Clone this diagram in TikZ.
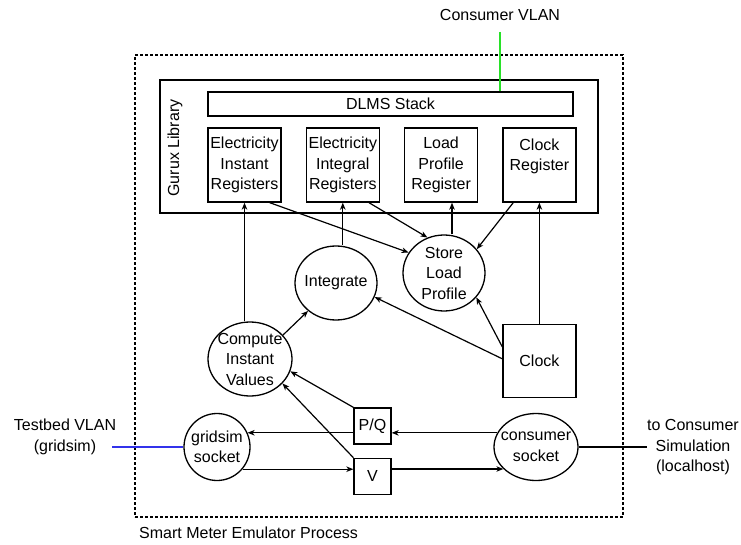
\documentclass[tikz,border=0pt]{standalone}
\usepackage{fontspec}
\setmainfont{Liberation Sans}
\usetikzlibrary{shapes.geometric, arrows.meta, positioning}
\definecolor{vlangreen}{RGB}{40,225,40}
\definecolor{vlanblue}{RGB}{50,50,235}

\begin{document}
\begin{tikzpicture}[
    x=1pt, y=-1pt,
    font=\fontsize{16}{20.5}\selectfont,
    blk/.style={rectangle, draw, line width=1.3pt, inner sep=0pt, align=center},
    reg/.style={blk, minimum width=73pt, minimum height=74pt},
    bub/.style={ellipse, draw, line width=1.3pt, inner sep=-3pt, align=center},
    arr/.style={-{Stealth[length=7pt, width=5.5pt, inset=2pt]}, line width=1.2pt}
]
    \useasboundingbox (0,0) rectangle (741,545);

    \node[blk, line width=1.1pt, dash pattern=on 3pt off 2pt, minimum width=488pt, minimum height=462pt] (proc) at (379,286) {};
    \node[anchor=west, inner sep=0pt] (proclbl) at (139,533) {Smart Meter Emulator Process};

    \node[blk, minimum width=438pt, minimum height=133pt] (gurux) at (379,146.5) {};
    \node[rotate=90] (guruxlbl) at (175,148) {Gurux Library};
    \node[blk, minimum width=365pt, minimum height=24pt] (dlms) at (390.5,104) {DLMS Stack};

    \node[reg] (eir) at (244.5,165) {Electricity\\Instant\\Registers};
    \node[reg, right=24pt of eir] (eig) {Electricity\\Integral\\Registers};
    \node[reg, right=24pt of eig] (lpr) {Load\\Profile\\Register};
    \node[reg, right=24pt of lpr] (clr) {Clock\\Register\\~};

    \node[bub, minimum width=82pt, minimum height=76pt] (slp) at (444,273) {Store\\Load\\Profile};
    \node[bub, minimum width=82pt, minimum height=74pt] (integ) at (336,283) {Integrate};
    \node[bub, minimum width=84pt, minimum height=74pt] (civ) at (250,359) {Compute\\Instant\\Values};
    \node[blk, minimum size=73pt, below=121pt of clr] (clock) {Clock};

    \node[blk, minimum width=37pt, minimum height=36pt] (pq) at (372.5,426) {P/Q};
    \node[blk, minimum width=37pt, minimum height=36pt, below=13pt of pq] (v) {V};
    \node[bub, minimum width=66pt, minimum height=67pt] (gridsim) at (217,447) {gridsim\\socket};
    \node[bub, inner xsep=-6pt, minimum width=84pt, minimum height=67pt] (consumer) at (536,447) {consumer\\socket};

    \node (cvlan) at (500,15) {Consumer VLAN};
    \node[align=center] (tbvlan) at (65,437) {Testbed VLAN\\(gridsim)};
    \node[align=center] (tocons) at (693,447.5) {to Consumer\\Simulation\\(localhost)};
    \coordinate (cvlanend) at (500,32);
    \coordinate (tbend) at (112,447);
    \coordinate (csend) at (647,447);

    \draw[vlangreen, line width=1.3pt] (cvlanend) -- (cvlanend |- dlms.north);
    \draw[vlanblue, line width=1.3pt] (tbend) -- (gridsim.west);
    \draw[line width=1.3pt] (consumer.east) -- (csend);

    \draw[arr] (civ.north -| eir.south) -- (eir.south);
    \draw[arr] (integ.north -| eig.south) -- (eig.south);
    \draw[arr] ([xshift=8pt]slp.north) -- ([xshift=8pt]slp.north |- lpr.south);
    \draw[arr] (clock.north) -- (clock.north |- clr.south);
    \draw[arr] ([xshift=-12pt]eir.south east) -- (slp.150);
    \draw[arr] ([xshift=-11pt]eig.south east) -- (slp.115);
    \draw[arr] ([xshift=11pt]clr.south west) -- (slp.36);
    \draw[arr] ([yshift=14pt]clock.west) -- (slp.-37);
    \draw[arr] ([yshift=2pt]clock.west) -- (integ.-20);
    \draw[arr] (civ.36) -- (integ.225);
    \draw[arr] (pq.north west) -- (civ.-17);
    \draw[arr] (v.north west) -- (civ.-37);
    \draw[arr] (pq.west |- gridsim.25) -- (gridsim.25);
    \draw[arr] (consumer.160) -- (consumer.160 -| pq.east);
    \draw[arr] (gridsim.-41) -- (gridsim.-41 -| v.west);
    \draw[arr] (consumer.214 -| v.east) -- (consumer.214);
\end{tikzpicture}
\end{document}
